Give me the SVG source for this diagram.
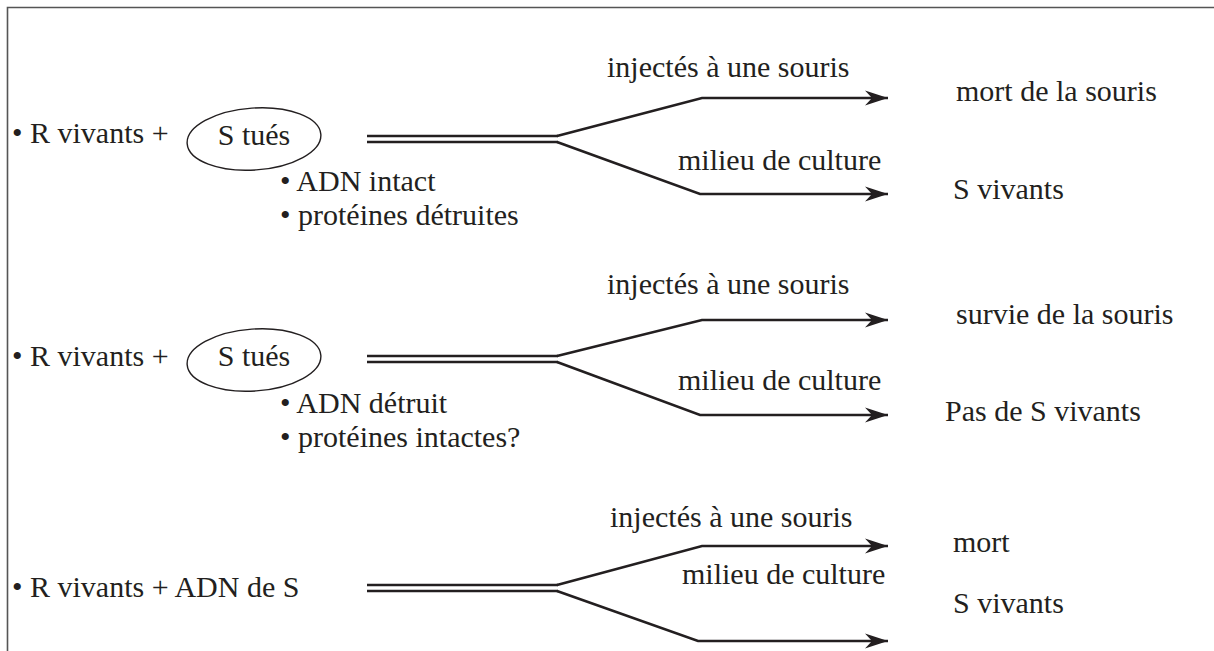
<svg xmlns="http://www.w3.org/2000/svg" width="1214" height="651" viewBox="0 0 1214 651">
<style>
text{font-family:'Liberation Serif','Times New Roman',serif;font-size:30px;fill:#231f20}
.dbl{stroke:#231f20;stroke-width:2.4;fill:none}
.arr{stroke:#231f20;stroke-width:2.6;fill:none;marker-end:url(#ah)}
.ell{fill:none;stroke:#231f20;stroke-width:1.4}
</style>
<defs>
<marker id="ah" markerUnits="userSpaceOnUse" markerWidth="26" markerHeight="18" viewBox="-24 -9 26 18" refX="0" refY="0" orient="auto">
<path d="M0,0 L-23,-7.5 L-16,0 L-23,7.5 Z" fill="#231f20"/>
</marker>
</defs>
<rect width="1214" height="651" fill="#fff"/>
<path d="M7.5,651 V7.5 H1214" fill="none" stroke="#555" stroke-width="1.6"/>

<g id="row1">
<g id="n1-source"><text x="12" y="143">• R vivants +</text></g>
<g id="n1-ellipse"><ellipse class="ell" cx="254" cy="139" rx="67" ry="31" transform="rotate(-4 254 139)"/><text x="254" y="145" text-anchor="middle">S tués</text></g>
<g id="n1-notes"><text x="280" y="191">• ADN intact</text><text x="280" y="225">• protéines détruites</text></g>
<g id="n1-lab-inj"><text x="607" y="77">injectés à une souris</text></g>
<g id="n1-lab-mil"><text x="678" y="170">milieu de culture</text></g>
<g id="n1-res1"><text x="956" y="101">mort de la souris</text></g>
<g id="n1-res2"><text x="953" y="199">S vivants</text></g>
</g>

<g id="row2">
<g id="n2-source"><text x="12" y="366">• R vivants +</text></g>
<g id="n2-ellipse"><ellipse class="ell" cx="254" cy="360" rx="67" ry="31" transform="rotate(-4 254 360)"/><text x="254" y="366" text-anchor="middle">S tués</text></g>
<g id="n2-notes"><text x="280" y="413">• ADN détruit</text><text x="280" y="447">• protéines intactes?</text></g>
<g id="n2-lab-inj"><text x="607" y="294">injectés à une souris</text></g>
<g id="n2-lab-mil"><text x="678" y="390">milieu de culture</text></g>
<g id="n2-res1"><text x="956" y="324">survie de la souris</text></g>
<g id="n2-res2"><text x="945" y="421">Pas de S vivants</text></g>
</g>

<g id="row3">
<g id="n3-source"><text x="12" y="597">• R vivants + ADN de S</text></g>
<g id="n3-lab-inj"><text x="610" y="527">injectés à une souris</text></g>
<g id="n3-lab-mil"><text x="682" y="584">milieu de culture</text></g>
<g id="n3-res1"><text x="953" y="552">mort</text></g>
<g id="n3-res2"><text x="953" y="613">S vivants</text></g>
</g>

<g id="connectors">
<path class="dbl" d="M367,136 H558 M367,142 H558"/>
<path class="arr" d="M557,136 L702,98 H888"/>
<path class="arr" d="M557,142 L700,194 H888"/>

<path class="dbl" d="M367,356 H558 M367,362 H558"/>
<path class="arr" d="M557,356 L702,320 H888"/>
<path class="arr" d="M557,362 L700,415 H888"/>

<path class="dbl" d="M367,585 H558 M367,591 H558"/>
<path class="arr" d="M557,585 L702,546 H888"/>
<path class="arr" d="M557,591 L698,641 H888"/>
</g>
</svg>
